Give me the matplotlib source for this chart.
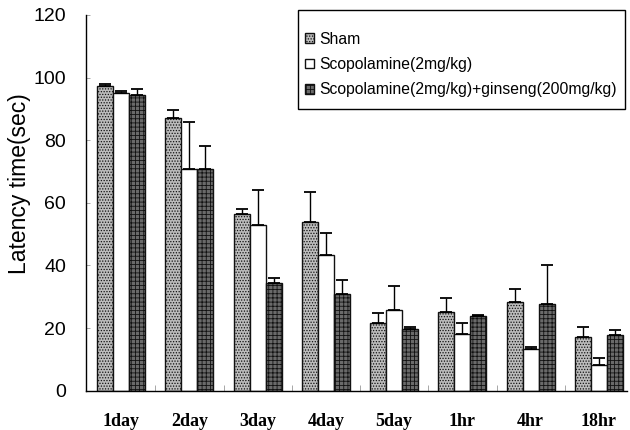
import matplotlib
matplotlib.use("Agg")
import matplotlib.pyplot as plt
from matplotlib.patches import Rectangle
import numpy as np

categories = ["1day", "2day", "3day", "4day", "5day", "1hr", "4hr", "18hr"]
series_names = ["Sham", "Scopolamine(2mg/kg)", "Scopolamine(2mg/kg)+ginseng(200mg/kg)"]
sham = [97.4, 87.1, 56.5, 54.0, 21.5, 25.1, 28.4, 17.0]
sham_err = [0.5, 2.4, 1.5, 9.6, 3.2, 4.6, 4.2, 3.4]
scop = [95.1, 70.8, 53.0, 43.4, 25.7, 18.2, 13.3, 8.1]
scop_err = [0.7, 15.1, 11.0, 6.9, 7.7, 3.5, 0.8, 2.3]
gins = [94.4, 70.8, 34.4, 30.8, 19.7, 23.8, 27.6, 17.8]
gins_err = [1.9, 7.4, 1.7, 4.5, 0.6, 0.4, 12.5, 1.6]
y_ticks = [0, 20, 40, 60, 80, 100, 120]

W, H = 630, 430
plt.rcParams['hatch.linewidth'] = 0.6
fig = plt.figure(figsize=(6.3, 4.3), dpi=100)
ax = fig.add_axes([0.136, 0.0914, 0.859, 0.874])

x = np.arange(len(categories))
w = 0.234
styles = [
    dict(facecolor="#bcbcbc", hatch="......", edgecolor="#222222"),
    dict(facecolor="white", hatch=None, edgecolor="#111111"),
    dict(facecolor="#6a6a6a", hatch="++++", edgecolor="#111111"),
]
data = [(sham, sham_err), (scop, scop_err), (gins, gins_err)]
for k, ((vals, errs), st, name) in enumerate(zip(data, styles, series_names)):
    pos = x + (k - 1) * w
    bars = ax.bar(pos, vals, width=w, label=name, linewidth=1.0, **st)
    for b in bars:
        b.set_edgecolor("#111111")
    ax.errorbar(pos, vals, yerr=[np.zeros(len(vals)), errs], fmt="none",
                ecolor="black", elinewidth=1.0, capsize=4, capthick=1.3)

ax.set_xlim(-0.52, 7.41)
ax.set_ylim(0, 120)
ax.set_yticks(y_ticks)
ax.set_xticks(x)
ax.set_xticklabels(categories, fontfamily="Liberation Serif", fontweight="bold", fontsize=13)
ax.set_xticks(x[:-1] + 0.5, minor=True)
ax.tick_params(axis="x", which="major", length=0, pad=16)
ax.tick_params(axis="x", which="minor", direction="in", length=4, color="#999999", width=0.6)
ax.tick_params(axis="y", which="major", direction="in", length=3, color="#999999", width=0.6,
               labelsize=14, pad=14)
for lab in ax.get_yticklabels():
    lab.set_fontfamily("Liberation Sans")

ax.spines["top"].set_visible(False)
ax.spines["right"].set_visible(False)
ax.spines["left"].set_linewidth(1.0)
ax.spines["bottom"].set_linewidth(1.0)

ax.set_ylabel("Latency time(sec)", fontsize=16.5, fontfamily="Liberation Sans")
ax.yaxis.set_label_coords(-0.101, 0.55)

# legend box drawn as a rectangle, entries placed inside without frame
ax.add_patch(Rectangle((298 / W, 1 - 109 / H), (625 - 298) / W, (109 - 10) / H,
                       transform=fig.transFigure, facecolor="white", clip_on=False,
                       edgecolor="black", linewidth=1.0, zorder=5))
leg = ax.legend(loc="upper left", bbox_to_anchor=(305 / W, 1 - 32 / H),
                bbox_transform=fig.transFigure, borderaxespad=0, frameon=False,
                prop={"family": "Liberation Sans", "size": 11.3},
                handlelength=0.6, handleheight=0.6, handletextpad=0.3,
                labelspacing=0.64, borderpad=0)
leg.set_zorder(6)

fig.savefig("out.png", dpi=100)
